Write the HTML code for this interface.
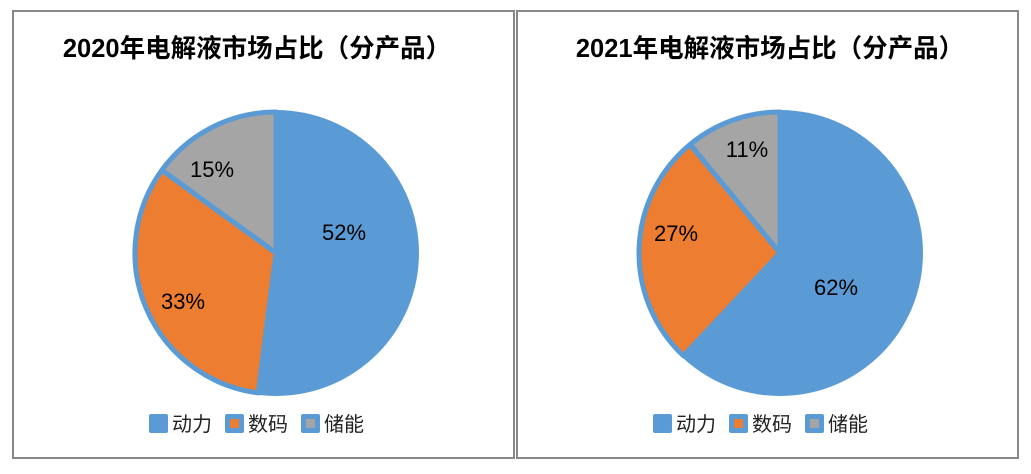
<!DOCTYPE html>
<html><head><meta charset="utf-8"><style>
body{margin:0;background:#fff;}
svg text{font-family:"Liberation Sans","Noto Sans CJK SC",sans-serif;}
</style></head><body>
<svg width="1031" height="469" xmlns="http://www.w3.org/2000/svg">
<rect x="0" y="0" width="1031" height="469" fill="#fff"/>
<rect x="13" y="11" width="501" height="447" fill="#fff" stroke="#888" stroke-width="2"/>
<rect x="517" y="11" width="501" height="447" fill="#fff" stroke="#888" stroke-width="2"/>

<text x="257" y="57" text-anchor="middle" font-size="25.5" font-weight="bold" fill="#000">2020年电解液市场占比（分产品）</text>
<text x="770" y="57" text-anchor="middle" font-size="25.5" font-weight="bold" fill="#000">2021年电解液市场占比（分产品）</text>

<g stroke="#5b9bd5" stroke-width="5" stroke-linejoin="round">
<circle cx="276" cy="253" r="143" fill="#5b9bd5" stroke="none"/>
<path d="M276,253 L258.3,392.9 A141,141 0 0 1 161.9,170.1 Z" fill="#ed7d31"/>
<path d="M276,253 L161.9,170.1 A141,141 0 0 1 276,112 Z" fill="#a5a5a5"/>
<circle cx="780" cy="253" r="143" fill="#5b9bd5" stroke="none"/>
<path d="M780,253 L683.5,355.8 A141,141 0 0 1 690.1,144.4 Z" fill="#ed7d31"/>
<path d="M780,253 L690.1,144.4 A141,141 0 0 1 780,112 Z" fill="#a5a5a5"/>
</g>

<g font-size="22" fill="#000" text-anchor="middle">
<text x="344" y="240">52%</text>
<text x="212" y="177">15%</text>
<text x="183" y="309">33%</text>
<text x="747" y="157">11%</text>
<text x="676" y="241">27%</text>
<text x="836" y="295">62%</text>
</g>

<g font-size="20" fill="#222">
<rect x="149" y="414" width="19" height="19" rx="2" fill="#5b9bd5"/>
<text x="172" y="431">动力</text>
<rect x="225" y="414" width="19" height="19" rx="2" fill="#5b9bd5"/>
<rect x="230" y="419" width="9" height="9" fill="#ed7d31"/>
<text x="248" y="431">数码</text>
<rect x="301" y="414" width="19" height="19" rx="2" fill="#5b9bd5"/>
<rect x="306" y="419" width="9" height="9" fill="#a5a5a5"/>
<text x="324" y="431">储能</text>

<rect x="653" y="414" width="19" height="19" rx="2" fill="#5b9bd5"/>
<text x="676" y="431">动力</text>
<rect x="729" y="414" width="19" height="19" rx="2" fill="#5b9bd5"/>
<rect x="734" y="419" width="9" height="9" fill="#ed7d31"/>
<text x="752" y="431">数码</text>
<rect x="805" y="414" width="19" height="19" rx="2" fill="#5b9bd5"/>
<rect x="810" y="419" width="9" height="9" fill="#a5a5a5"/>
<text x="828" y="431">储能</text>
</g>
</svg>
</body></html>
